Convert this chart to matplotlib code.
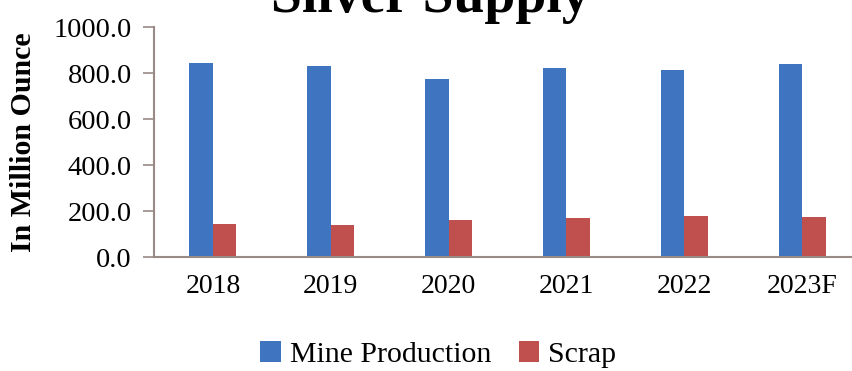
import matplotlib.pyplot as plt
import numpy as np

# Silver supply, million ounces
years = ["2018", "2019", "2020", "2021", "2022", "2023F"]
mine_production = [842, 830, 774, 820, 813, 838]
scrap = [142, 139, 160, 171, 178, 175]

plt.rcParams["font.family"] = "Liberation Serif"

fig = plt.figure(figsize=(8.53, 3.71), dpi=100)
ax = fig.add_axes([0.1805, 0.307, 0.829, 0.62])

x = np.arange(len(years))
w = 0.2
ax.bar(x - w / 2, mine_production, width=w, color="#3f74c1", label="Mine Production")
ax.bar(x + w / 2, scrap, width=w, color="#c0504d", label="Scrap")

ax.set_xlim(-0.5, 5.5)
ax.set_ylim(0, 1000)
ax.set_yticks(np.arange(0, 1001, 200))
ax.set_yticklabels([f"{v:.1f}" for v in np.arange(0, 1001, 200)])
ax.set_xticks(x)
ax.set_xticklabels(years)

for s in ["top", "right"]:
    ax.spines[s].set_visible(False)
for s in ["left", "bottom"]:
    ax.spines[s].set_color("#9a8a86")
    ax.spines[s].set_linewidth(1.5)

ax.tick_params(axis="y", length=8, width=1.2, color="#9a8a86", pad=8, labelsize=20.5)
ax.tick_params(axis="x", length=0, pad=12, labelsize=20)

ax.set_ylabel("In Million Ounce", fontsize=21.5, fontweight="bold", labelpad=12)

fig.text(0.505, 0.968, "Silver Supply", ha="center", va="baseline",
         fontsize=40, fontweight="bold")

fig.legend(loc="center", bbox_to_anchor=(0.514, 0.045), ncol=2, frameon=False,
           fontsize=21.5, handlelength=0.7, handleheight=0.7, handletextpad=0.3,
           columnspacing=0.9)

fig.savefig("out.png", dpi=100)
